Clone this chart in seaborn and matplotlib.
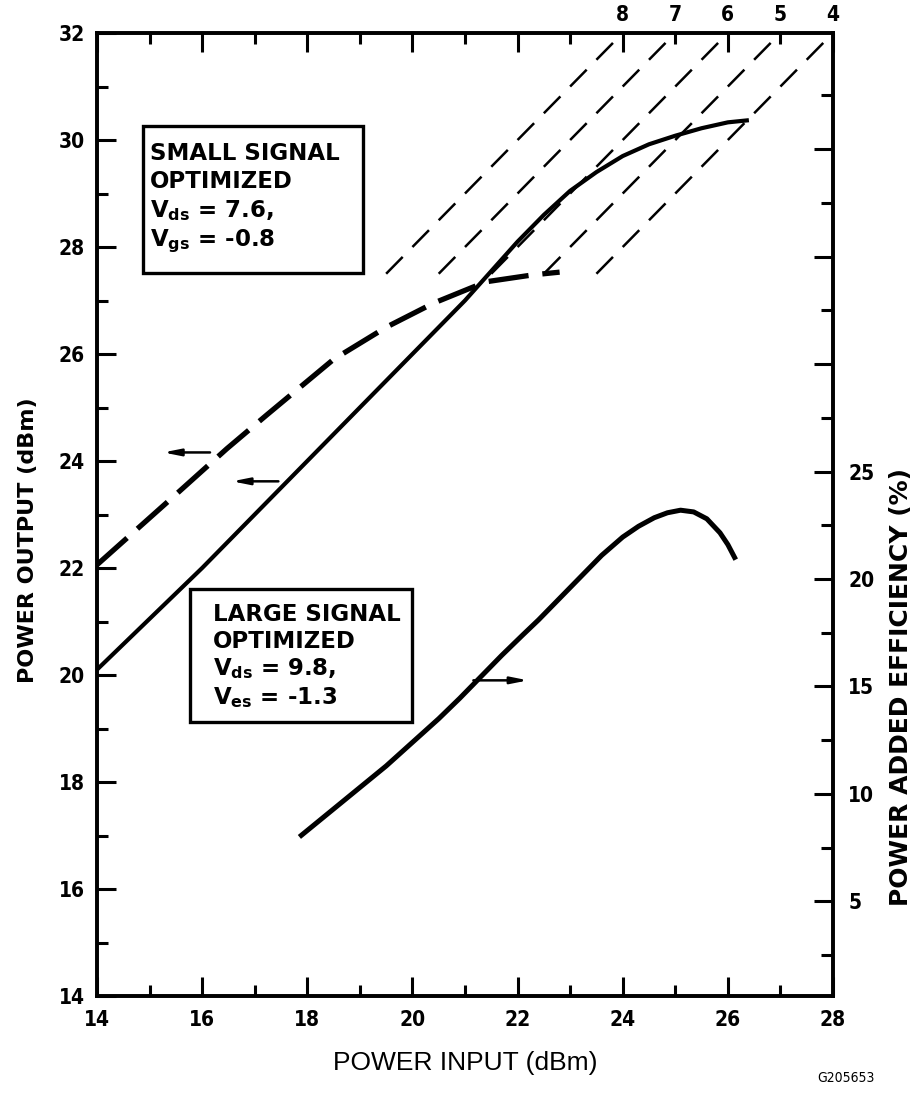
import numpy as np
import pandas as pd
import matplotlib
matplotlib.use("Agg")
import matplotlib.pyplot as plt
import seaborn as sns
from matplotlib.ticker import MultipleLocator, FixedLocator, FuncFormatter
from matplotlib.patches import Rectangle

# ---------------- data ----------------
# large-signal optimized device: power output (dBm) vs power input (dBm)
pin_large = [14.0, 16.0, 18.0, 20.0, 21.0, 22.0, 22.5, 23.0, 23.5, 24.0, 24.5, 25.0, 25.5, 26.0, 26.4]
pout_large = [20.1, 22.0, 24.0, 26.0, 27.0, 28.1, 28.6, 29.05, 29.4, 29.7, 29.92, 30.08, 30.22, 30.33, 30.37]

# small-signal optimized device: power output (dBm)
pin_small = [14.0, 15.45, 16.47, 17.24, 18.5, 19.5, 20.4, 21.4, 22.3, 22.8]
pout_small = [22.06, 23.33, 24.23, 24.87, 25.9, 26.5, 26.95, 27.35, 27.48, 27.53]

# power added efficiency (%) of large-signal device (right axis)
pin_eff = [17.85, 18.4, 18.9, 19.5, 20.0, 20.5, 20.9, 21.3, 21.7, 22.1, 22.4, 22.8,
           23.2, 23.6, 24.0, 24.3, 24.6, 24.85, 25.1, 25.35, 25.6, 25.85, 26.0, 26.15]
eff_pct = [8.0, 9.1, 10.1, 11.3, 12.4, 13.5, 14.45, 15.45, 16.45, 17.4, 18.1, 19.1,
           20.1, 21.1, 21.95, 22.45, 22.85, 23.08, 23.2, 23.12, 22.8, 22.15, 21.6, 20.9]

# constant-gain reference lines (dB) and the output range they span
gain_db = [8, 7, 6, 5, 4]
gain_pout_span = [27.5, 32.0]

# axis ticks / labels
x_ticks = [14, 16, 18, 20, 22, 24, 26, 28]
y_ticks = [14, 16, 18, 20, 22, 24, 26, 28, 30, 32]
eff_major = [5, 10, 15, 20, 25, 30, 35, 40]
eff_labeled = [5, 10, 15, 20, 25]
eff_minor = [2.5, 7.5, 12.5, 17.5, 22.5, 27.5, 32.5, 37.5, 42.5]

# ---------------- style ----------------
sns.set_style("ticks")
plt.rcParams["font.family"] = ["DejaVu Sans"]
plt.rcParams["lines.scale_dashes"] = False
plt.rcParams["mathtext.fontset"] = "dejavusans"
for k in ("text.color", "axes.labelcolor", "xtick.color", "ytick.color", "axes.edgecolor"):
    plt.rcParams[k] = "black"
NARROW = ["Liberation Sans Narrow", "DejaVu Sans"]

fig = plt.figure(figsize=(9.18, 10.95), dpi=100)
fig.patch.set_facecolor("white")
ax = fig.add_axes([97 / 918, 1 - 996 / 1095, 736 / 918, 963 / 1095])
ax2 = ax.twinx()
ax.set_facecolor("none")

# gain lines
rows = []
for g in gain_db:
    for p in gain_pout_span:
        rows.append({"gain": g, "pin": p - g, "pout": p})
df_gain = pd.DataFrame(rows)
sns.lineplot(data=df_gain, x="pin", y="pout", units="gain", estimator=None,
             color="black", lw=1.8, linestyle=(0, (17, 10)), ax=ax, legend=False)

# small-signal output (heavy dashed)
df_small = pd.DataFrame({"pin": pin_small, "pout": pout_small})
sns.lineplot(data=df_small, x="pin", y="pout", sort=False, estimator=None,
             color="black", lw=3.8, linestyle=(0, (29, 10)), ax=ax, legend=False)

# large-signal output (solid)
df_large = pd.DataFrame({"pin": pin_large, "pout": pout_large})
sns.lineplot(data=df_large, x="pin", y="pout", sort=False, estimator=None,
             color="black", lw=3.0, ax=ax, legend=False)

# efficiency (right axis)
df_eff = pd.DataFrame({"pin": pin_eff, "eff": eff_pct})
sns.lineplot(data=df_eff, x="pin", y="eff", sort=False, estimator=None,
             color="black", lw=3.6, ax=ax2, legend=False)
for ln in ax.lines + ax2.lines:
    ln.set_solid_capstyle("butt")
    ln.set_dash_capstyle("butt")
    ln.set_solid_joinstyle("round")

# ---------------- axes ----------------
ax.set_xlim(14, 28)
ax.set_ylim(14, 32)
ax2.set_ylim(0.6, 45.4)
ax.xaxis.set_major_locator(FixedLocator(x_ticks))
ax.xaxis.set_minor_locator(MultipleLocator(1))
ax.yaxis.set_major_locator(FixedLocator(y_ticks))
ax.yaxis.set_minor_locator(MultipleLocator(1))
ax2.yaxis.set_major_locator(FixedLocator(eff_major))
ax2.yaxis.set_minor_locator(FixedLocator(eff_minor))
ax2.yaxis.set_major_formatter(FuncFormatter(lambda v, p: f"{v:g}" if v in eff_labeled else ""))

ax.tick_params(axis="both", which="major", direction="in", length=14, width=2.2,
               top=True, right=False, labelsize=15, pad=10, colors="black")
ax.tick_params(axis="y", which="major", pad=9)
ax.tick_params(axis="both", which="minor", direction="in", length=8, width=2.2,
               top=True, right=False)
ax2.tick_params(axis="y", which="major", direction="in", length=14, width=2.2,
                labelsize=15, pad=11)
ax2.tick_params(axis="y", which="minor", direction="in", length=9, width=2.2)

for lab in ax.get_xticklabels() + ax.get_yticklabels() + ax2.get_yticklabels():
    lab.set_fontfamily(NARROW)
    lab.set_fontweight("bold")
    lab.set_fontstretch("condensed")

for a in (ax, ax2):
    for s in a.spines.values():
        s.set_linewidth(2.6)
        s.set_color("black")

ax.set_xlabel("POWER INPUT (dBm)", fontsize=19, family=["Liberation Sans", "DejaVu Sans"])
ax.xaxis.set_label_coords(0.5, -0.057)
ax.set_ylabel("POWER OUTPUT (dBm)", fontsize=16, fontweight="bold")
ax.yaxis.set_label_coords(-0.080, 0.4735)
ax2.set_ylabel("POWER ADDED EFFICIENCY (%)", fontsize=18, fontweight="bold")
ax2.yaxis.set_label_coords(1.076, 0.321)

# gain labels along the top
for g in gain_db:
    ax.annotate(str(g), xy=(gain_pout_span[1] - g, gain_pout_span[1]),
                xytext=(0, 6), textcoords="offset points", ha="center", va="bottom",
                fontsize=15, fontweight="bold", family=NARROW, fontstretch="condensed",
                annotation_clip=False)

# arrows pointing to the relevant axis
arrow_specs = [((16.15, 24.16), (15.26, 24.16)),
               ((17.45, 23.62), (16.57, 23.62)),
               ((21.16, 19.90), (22.20, 19.90))]
for tail, head in arrow_specs:
    ax.annotate("", xy=head, xytext=tail,
                arrowprops=dict(arrowstyle="-|>,head_length=1.0,head_width=0.2",
                                lw=1.8, color="black", shrinkA=0, shrinkB=0))

# annotation boxes
ax.add_patch(Rectangle((0.0625, 0.7508), 0.3614 - 0.0625, 0.9034 - 0.7508,
                       transform=ax.transAxes, fill=True, facecolor="white",
                       edgecolor="black", lw=2.4, zorder=3))
ax.text(0.072, 0.887,
        "SMALL SIGNAL\nOPTIMIZED\nV$_{\\mathbf{ds}}$ = 7.6,\nV$_{\\mathbf{gs}}$ = -0.8",
        transform=ax.transAxes, ha="left", va="top", fontsize=16.5, fontweight="bold",
        linespacing=1.27, zorder=4)

ax.add_patch(Rectangle((0.1264, 0.2845), 0.428 - 0.1264, 0.4226 - 0.2845,
                       transform=ax.transAxes, fill=True, facecolor="white",
                       edgecolor="black", lw=2.4, zorder=3))
ax.text(0.1576, 0.408,
        "LARGE SIGNAL\nOPTIMIZED\nV$_{\\mathbf{ds}}$ = 9.8,\nV$_{\\mathbf{es}}$ = -1.3",
        transform=ax.transAxes, ha="left", va="top", fontsize=16.5, fontweight="bold",
        linespacing=1.2, zorder=4)

fig.text(846 / 918, 1 - 1078 / 1095, "G205653", ha="center", va="center",
         fontsize=10, family=NARROW, fontstretch="condensed")

fig.savefig("out.png", dpi=100, facecolor="white")
